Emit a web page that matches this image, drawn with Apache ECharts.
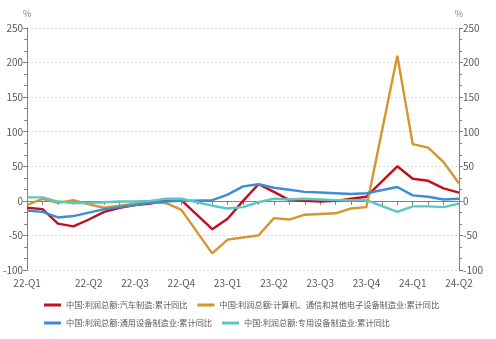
<!DOCTYPE html>
<html><head><meta charset="utf-8">
<script src="https://cdn.jsdelivr.net/npm/echarts@6/dist/echarts.min.js"></script>
<style>html,body{margin:0;padding:0;background:#fff}#c{width:496px;height:339px}</style>
</head><body><div id="c"></div>
<script>
// Months 2022-02 .. 2024-06 (January values are not published -> null)
const months = ['2022-02','2022-03','2022-04','2022-05','2022-06','2022-07','2022-08','2022-09','2022-10','2022-11','2022-12',
  '2023-01','2023-02','2023-03','2023-04','2023-05','2023-06','2023-07','2023-08','2023-09','2023-10','2023-11','2023-12',
  '2024-01','2024-02','2024-03','2024-04','2024-05','2024-06'];
const tickLabels = {'2022-02':'22-Q1','2022-06':'22-Q2','2022-09':'22-Q3','2022-12':'22-Q4','2023-03':'23-Q1','2023-06':'23-Q2','2023-09':'23-Q3','2023-12':'23-Q4','2024-03':'24-Q1','2024-06':'24-Q2'};
const seriesNames = ['中国:利润总额:汽车制造:累计同比','中国:利润总额:计算机、通信和其他电子设备制造业:累计同比','中国:利润总额:通用设备制造业:累计同比','中国:利润总额:专用设备制造业:累计同比'];
const auto   = [-10,-12,-33,-37,-27,-16,-10,-6,-4,1,1, null,-41,-26,0,24,13,1,0,-1,0,3,6, null,50,32,29,18,12];
const elec   = [-6,3,-3,1,-5,-10,-7,-4,-2,-3,-13, null,-76,-56,-53,-50,-25,-27,-20,-19,-18,-11,-9, null,210,82,77,56,25];
const general= [-14,-16,-24,-22,-17,-12,-9,-6,-3,-1,0, null,1,9,21,24,19,16,13,12,11,10,11, null,20,8,6,2,3];
const special= [5,5,-1,-3,-3,-2,-1,-1,0,3,3, null,-7,-11,-9,-2,3,2,3,2,1,1,1, null,-16,-8,-8,-9,-4];
const colors = ['#C0101E','#D4952C','#3D8CD6','#5CC6C4'];
const yTicks = {min:-100,max:250,interval:50};

const font = 'Noto Sans CJK SC';
const chart = echarts.init(document.getElementById('c'));
const yAxisBase = (pos) => ({
  type:'value', position:pos, min:yTicks.min, max:yTicks.max, interval:yTicks.interval,
  name:'%', nameLocation:'end', nameGap:10,
  nameTextStyle:{color:'#7f7f7f',fontSize:9,fontFamily:font, align:'center'},
  axisLine:{show:true,lineStyle:{color:'#808080',width:1}},
  axisTick:{show:true,length:4,lineStyle:{color:'#808080'}},
  minorTick:{show:true,splitNumber:3,length:3,lineStyle:{color:'#808080'}},
  axisLabel:{color:'#595959',fontSize:10,fontFamily:font,margin:4},
  splitLine:{show:pos==='left',lineStyle:{color:'#d9d9d9',type:[2,2],width:1}}
});
const mk = (i,data) => ({name:seriesNames[i],type:'line',data:data,yAxisIndex:0,connectNulls:true,
  showSymbol:false,symbol:'none',lineStyle:{width:2.4,color:colors[i]},itemStyle:{color:colors[i]}});
const legendBase = (top,items) => ({top:top,left:44,itemWidth:17,itemHeight:3,itemGap:10,icon:'rect',
  textStyle:{color:'#595959',fontSize:8.2,fontFamily:font,lineHeight:10},padding:0,data:items});
chart.setOption({
  animation:false,
  textStyle:{fontFamily:font},
  grid:{left:24,right:37,top:28,bottom:69},
  legend:[legendBase(300,[seriesNames[0],seriesNames[1]]), legendBase(318,[seriesNames[2],seriesNames[3]])],
  xAxis:{type:'category',data:months,boundaryGap:false,
    axisLine:{lineStyle:{color:'#808080'}},
    axisTick:{show:true,interval:0,length:4,lineStyle:{color:'#808080'}},
    axisLabel:{interval:(idx,v)=>!!tickLabels[v],formatter:(v)=>tickLabels[v]||'',color:'#595959',fontSize:10,fontFamily:font,margin:8},
    splitLine:{show:false}},
  yAxis:[yAxisBase('left'), yAxisBase('right')],
  series:[mk(0,auto),mk(1,elec),mk(2,general),mk(3,special)]
});
</script></body></html>
